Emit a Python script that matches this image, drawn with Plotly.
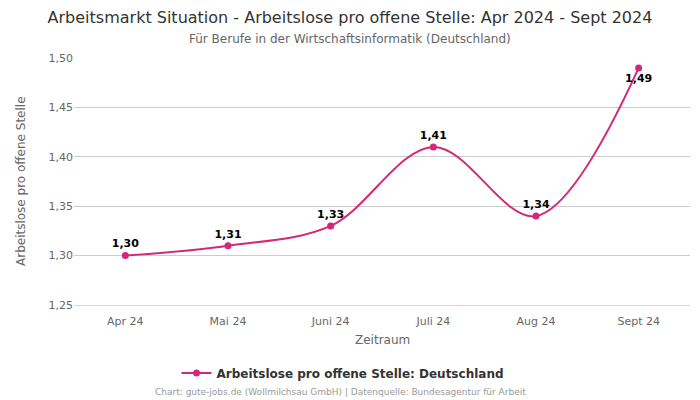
import plotly.graph_objects as go

categories = ["Apr 24", "Mai 24", "Juni 24", "Juli 24", "Aug 24", "Sept 24"]
values = [1.30, 1.31, 1.33, 1.41, 1.34, 1.49]
label_pos = ["top center", "top center", "top center", "top center", "top center", "bottom center"]
series_name = "Arbeitslose pro offene Stelle: Deutschland"
tick_vals = [1.25, 1.30, 1.35, 1.40, 1.45, 1.50]

color = "#d3287a"
font = "DejaVu Sans"

fig = go.Figure()
fig.add_trace(go.Scatter(
    x=categories, y=values, mode="lines+markers+text",
    name=series_name,
    line=dict(color=color, width=2, shape="spline", smoothing=1.0),
    marker=dict(color=color, size=7),
    text=[f"{v:.2f}".replace(".", ",") for v in values],
    textposition=label_pos,
    textfont=dict(family=font, size=11, color="#000000", weight="bold"),
    cliponaxis=False,
))

H = 247.0
def py(pix):
    return 1 - (pix - 58) / H

fig.update_layout(
    width=700, height=400,
    paper_bgcolor="white", plot_bgcolor="white",
    margin=dict(l=74, r=10, t=58, b=95, autoexpand=False),
    separators=",.",
    font=dict(family=font, color="#666666"),
    title=dict(
        text="Arbeitsmarkt Situation - Arbeitslose pro offene Stelle: Apr 2024 - Sept 2024",
        x=0.5, xref="container", xanchor="center",
        y=1 - 17 / 400, yref="container", yanchor="middle",
        font=dict(family=font, size=16, color="#333333"),
    ),
    xaxis=dict(
        type="category", range=[-0.5, 5.5], automargin=False,
        tickfont=dict(size=11, color="#666666"), ticklabelstandoff=6,
        showgrid=False, showline=True, linecolor="#ccd6eb", linewidth=1, ticks="",
    ),
    yaxis=dict(
        range=[1.25, 1.50], tickvals=tick_vals, tickformat=".2f", automargin=False,
        tickfont=dict(size=11, color="#666666"),
        gridcolor="#cccccc", gridwidth=1, zeroline=False, showline=False, ticks="",
    ),
    showlegend=True,
    legend=dict(
        orientation="h", x=0.49, xref="container", xanchor="center",
        y=1 - 373 / 400, yref="container", yanchor="middle",
        font=dict(family=font, size=12, color="#333333", weight="bold"),
    ),
    annotations=[
        dict(text="Für Berufe in der Wirtschaftsinformatik (Deutschland)",
             x=(350 - 74) / 616, xref="paper", xanchor="center", y=py(39), yref="paper", yanchor="middle",
             showarrow=False, font=dict(family=font, size=12, color="#666666")),
        dict(text="Zeitraum",
             x=0.5, xref="paper", xanchor="center", y=py(340), yref="paper", yanchor="middle",
             showarrow=False, font=dict(family=font, size=12, color="#666666")),
        dict(text="Arbeitslose pro offene Stelle", textangle=-90,
             x=(21 - 74) / 616, xref="paper", xanchor="center", y=py(181), yref="paper", yanchor="middle",
             showarrow=False, font=dict(family=font, size=12, color="#666666")),
        dict(text="Chart: gute-jobs.de (Wollmilchsau GmbH) | Datenquelle: Bundesagentur für Arbeit",
             x=(340 - 74) / 616, xref="paper", xanchor="center", y=py(392), yref="paper", yanchor="middle",
             showarrow=False, font=dict(family=font, size=9, color="#999999")),
    ],
)

fig.write_html("out.html", config={"displayModeBar": False},
               post_script="document.body.style.margin='0';document.body.style.padding='0';")
